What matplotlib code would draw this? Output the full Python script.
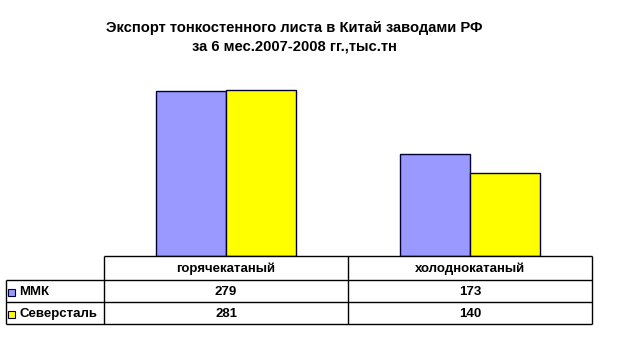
import matplotlib
matplotlib.use("Agg")
import matplotlib.pyplot as plt
from matplotlib.patches import Rectangle
import numpy as np

categories = ["горячекатаный", "холоднокатаный"]
series_names = ["ММК", "Северсталь"]
mmk = [279, 173]
severstal = [281, 140]
colors = ["#9999FF", "#FFFF00"]
title = "Экспорт тонкостенного листа в Китай заводами РФ\nза 6 мес.2007-2008 гг.,тыс.тн"

W, H = 624, 343
fig = plt.figure(figsize=(W / 100, H / 100), dpi=100)
fig.patch.set_facecolor("white")

# chart axes: x 104..592, y 79..256 (pixels from top)
ax = fig.add_axes([104 / W, 1 - 256 / H, 488 / W, (256 - 79) / H])
x = np.arange(len(categories))
bw = 70 / 244
ax.bar(x - bw / 2, mmk, width=bw, color=colors[0], edgecolor="#000033", linewidth=1.0)
ax.bar(x + bw / 2, severstal, width=bw, color=colors[1], edgecolor="#000033", linewidth=1.0)
ax.set_xlim(-0.5, len(categories) - 0.5)
ax.set_ylim(0, 300)
for s in ["left", "right", "top", "bottom"]:
    ax.spines[s].set_visible(False)
ax.set_xticks([])
ax.set_yticks([])

fig.text(294 / W, 1 - 37.5 / H, title, ha="center", va="center", fontsize=10.6,
         fontweight="bold", family=["Liberation Sans", "DejaVu Sans"], linespacing=1.45)

# data table axes, in pixel-like units: x 6..592, y 256..324
tfont = ["Liberation Sans Narrow", "Liberation Sans", "DejaVu Sans"]
tx0, tx1, ty0, ty1 = 6, 592, 256, 324
tax = fig.add_axes([tx0 / W, 1 - ty1 / H, (tx1 - tx0) / W, (ty1 - ty0) / H])
tax.set_xlim(tx0, tx1)
tax.set_ylim(ty1, ty0)
tax.axis("off")
col_edges = [6, 104, 348, 592]
row_edges = [256, 280, 302, 324]
lw = 1.0
kw = dict(color="black", linewidth=lw, clip_on=False)
# header row (no corner cell)
tax.hlines(row_edges[0], col_edges[1], col_edges[3], **kw)
tax.hlines(row_edges[1:], col_edges[0], col_edges[3], **kw)
tax.vlines(col_edges[0], row_edges[1], row_edges[3], **kw)
tax.vlines(col_edges[1:], row_edges[0], row_edges[3], **kw)
tstyle = dict(fontsize=9.5, fontweight="bold", family=tfont, va="center")
for j, c in enumerate(categories):
    tax.text((col_edges[j + 1] + col_edges[j + 2]) / 2, (row_edges[0] + row_edges[1]) / 2 + 1,
             c, ha="center", **tstyle)
for i, (name, vals) in enumerate(zip(series_names, [mmk, severstal])):
    yc = (row_edges[i + 1] + row_edges[i + 2]) / 2 + 1
    tax.add_patch(Rectangle((8, yc - 3.5), 7, 7, facecolor=colors[i],
                            edgecolor="#000033", linewidth=0.8, clip_on=False))
    tax.text(19, yc, name, ha="left", **tstyle)
    for j, v in enumerate(vals):
        tax.text((col_edges[j + 1] + col_edges[j + 2]) / 2, yc, str(v), ha="center", **tstyle)

fig.savefig("out.png", dpi=100, facecolor="white")
